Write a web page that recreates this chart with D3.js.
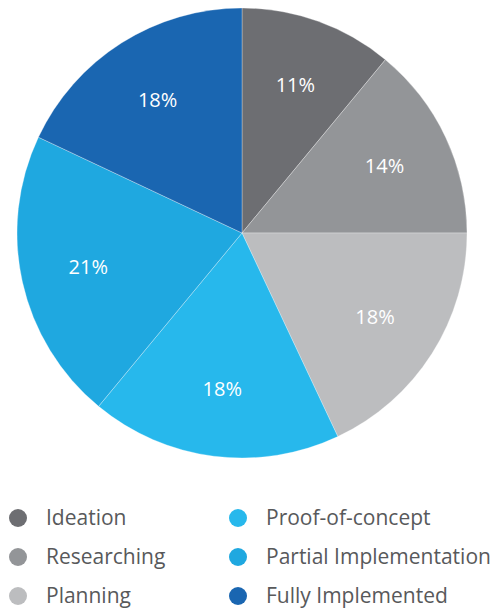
<!DOCTYPE html>
<html>
<head>
<meta charset="utf-8">
<script src="https://cdn.jsdelivr.net/npm/d3@7"></script>
<style>
  body { margin: 0; background: #fff; }
</style>
</head>
<body>
<div id="chart"></div>
<script>
const stages = ["Ideation", "Researching", "Planning", "Proof-of-concept", "Partial Implementation", "Fully Implemented"];
const shares = [11, 14, 18, 18, 21, 18];
const colors = ["#6d6e72", "#939598", "#bcbdbf", "#27b8ec", "#1fa8e0", "#1a66b1"];

const width = 499;
const height = 609;
const cx = 242;
const cy = 233;
const radius = 225;

const data = stages.map((s, i) => ({ stage: s, value: shares[i], color: colors[i] }));

const svg = d3.select("#chart").append("svg")
  .attr("width", width)
  .attr("height", height)
  .attr("viewBox", [0, 0, width, height]);

const pie = d3.pie().value(d => d.value).sort(null);
const arc = d3.arc().innerRadius(0).outerRadius(radius);
const labelArc = d3.arc().innerRadius(radius * 0.7).outerRadius(radius * 0.7);

const g = svg.append("g").attr("transform", `translate(${cx},${cy})`);

g.selectAll("path")
  .data(pie(data))
  .join("path")
  .attr("fill", d => d.data.color)
  .attr("stroke", "#fff")
  .attr("stroke-width", 0.3)
  .attr("d", arc);

g.selectAll("text")
  .data(pie(data))
  .join("text")
  .attr("transform", d => `translate(${labelArc.centroid(d)})`)
  .attr("text-anchor", "middle")
  .attr("dy", "0.35em")
  .attr("fill", "#fff")
  .attr("font-family", "'Open Sans', sans-serif")
  .attr("font-size", 20)
  .text(d => d.data.value + "%");

// legend, two columns of three
const legendX = [18, 238];
const legendY = d3.scalePoint().domain([0, 1, 2]).range([518, 596]);

const legend = svg.append("g")
  .selectAll("g")
  .data(data)
  .join("g")
  .attr("transform", (d, i) => `translate(${legendX[Math.floor(i / 3)]},${legendY(i % 3)})`);

legend.append("circle")
  .attr("r", 9)
  .attr("fill", d => d.color);

legend.append("text")
  .attr("x", 28)
  .attr("dy", "0.35em")
  .attr("fill", "#58595b")
  .attr("font-family", "'Open Sans', sans-serif")
  .attr("font-size", 21)
  .text(d => d.stage);
</script>
</body>
</html>
